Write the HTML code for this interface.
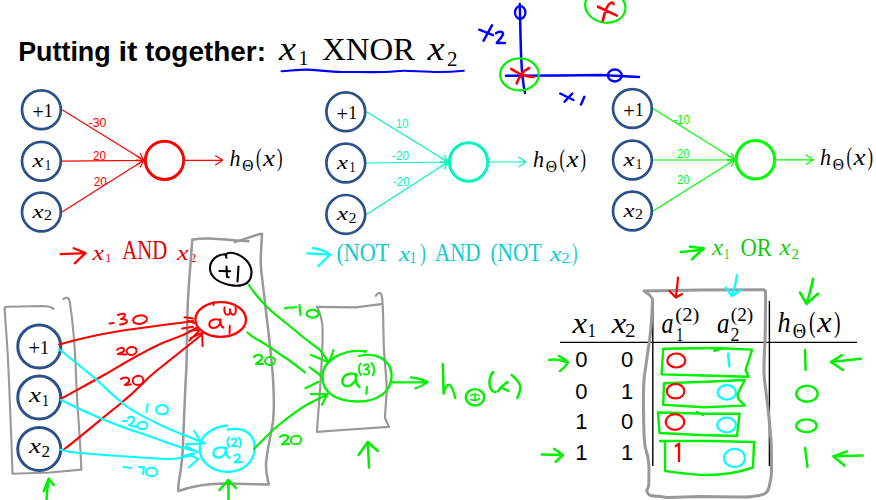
<!DOCTYPE html>
<html><head><meta charset="utf-8"><title>Putting it together</title>
<style>
html,body{margin:0;padding:0;background:#fff}
body{width:876px;height:500px;overflow:hidden;font-family:"Liberation Sans",sans-serif}
svg{display:block}
</style></head><body>
<svg width="876" height="500" viewBox="0 0 876 500">
<rect width="876" height="500" fill="#fff"/>
<text x="18.2" y="60.75" font-family="Liberation Sans" font-size="27" font-style="normal" font-weight="bold" fill="#000" text-anchor="start" textLength="92.5" lengthAdjust="spacingAndGlyphs">Putting</text>
<text x="118.4" y="60.75" font-family="Liberation Sans" font-size="27" font-style="normal" font-weight="bold" fill="#000" text-anchor="start" textLength="19" lengthAdjust="spacingAndGlyphs">it</text>
<text x="145" y="60.75" font-family="Liberation Sans" font-size="27" font-style="normal" font-weight="bold" fill="#000" text-anchor="start" textLength="121" lengthAdjust="spacingAndGlyphs">together:</text>
<text x="279" y="60" font-family="Liberation Serif" font-size="33" font-style="italic" font-weight="normal" fill="#000" text-anchor="start" textLength="17" lengthAdjust="spacingAndGlyphs">x</text>
<text x="298.6" y="65.2" font-family="Liberation Serif" font-size="22" font-style="normal" font-weight="normal" fill="#000" text-anchor="start" textLength="10" lengthAdjust="spacingAndGlyphs">1</text>
<text x="322" y="60" font-family="Liberation Serif" font-size="32.4" font-style="normal" font-weight="normal" fill="#000" text-anchor="start" textLength="93" lengthAdjust="spacingAndGlyphs">XNOR</text>
<text x="427.5" y="60" font-family="Liberation Serif" font-size="33" font-style="italic" font-weight="normal" fill="#000" text-anchor="start" textLength="17" lengthAdjust="spacingAndGlyphs">x</text>
<text x="447" y="65.5" font-family="Liberation Serif" font-size="21" font-style="normal" font-weight="normal" fill="#000" text-anchor="start" textLength="10.5" lengthAdjust="spacingAndGlyphs">2</text>
<path d="M281.5,71.3 C290,70.8 298,69.6 306,69.6 S330,72 342,72 S375,72.3 385,72 S398,70.8 404.3,70.8 S428,72 437.9,72 S455,71.6 463.8,70.8" fill="none" stroke="#0000ff" stroke-width="2.1" stroke-linecap="round" stroke-linejoin="round" />
<path d="M519.8,4 C520.3,25 520.6,45 521.2,58 S523,84 525,93" fill="none" stroke="#0000ff" stroke-width="2.5" stroke-linecap="round" stroke-linejoin="round" />
<path d="M506,75.8 L560,75.6 L600,75 L639,77" fill="none" stroke="#0000ff" stroke-width="2.5" stroke-linecap="round" stroke-linejoin="round" />
<ellipse cx="520.2" cy="12.5" rx="5.2" ry="6.3" fill="none" stroke="#0000ff" stroke-width="2.3"/>
<ellipse cx="614.8" cy="75.5" rx="7" ry="6" fill="none" stroke="#0000ff" stroke-width="2.3"/>
<path d="M479.2,29.7 L493,35.2 M492,25.3 L483.6,40.7" fill="none" stroke="#0000ff" stroke-width="2.5" stroke-linecap="round" stroke-linejoin="round" />
<path d="M496,33.2 C499,31 503.5,31.5 503,34 S499,40 496.8,43 L504.8,43" fill="none" stroke="#0000ff" stroke-width="2.5" stroke-linecap="round" stroke-linejoin="round" />
<path d="M560.2,93.5 L573.4,100 M572.3,93.5 L564.6,101.6" fill="none" stroke="#0000ff" stroke-width="2.5" stroke-linecap="round" stroke-linejoin="round" />
<path d="M584.4,96.8 L581,104.5" fill="none" stroke="#0000ff" stroke-width="2.5" stroke-linecap="round" stroke-linejoin="round" />
<ellipse cx="519.5" cy="74.4" rx="19.3" ry="16" fill="none" stroke="#00f000" stroke-width="2.2"/>
<ellipse cx="605.3" cy="6.4" rx="20.3" ry="16.2" fill="none" stroke="#00f000" stroke-width="2.2" transform="rotate(12 605.3 6.4)"/>
<path d="M511.2,69 C515,71 518,73 521,74.4 S529,76.8 533.7,77 M529.2,68 C526,69.5 523.5,71.5 522,73.5 S518,80 516.6,83.4" fill="none" stroke="#ff0000" stroke-width="2.6" stroke-linecap="round" stroke-linejoin="round" />
<path d="M598,6.7 L616.9,15.6 M613.6,4.1 C613,2.4 611.8,2.2 611,2.8 C609,4.2 608,5.2 607.6,6 C606,9 605.2,11.5 604.7,13.4 S603.3,18.5 602.8,20.8" fill="none" stroke="#ff0000" stroke-width="2.6" stroke-linecap="round" stroke-linejoin="round" />
<path d="M62.0,109.8L143.9,160.3M140.1,153.3L143.9,160.3M135.9,160.1L143.9,160.3" fill="none" stroke="#ff0000" stroke-width="1.2"/>
<path d="M62.0,161.2L143.9,160.3M136.9,156.4L143.9,160.3M137.0,164.4L143.9,160.3" fill="none" stroke="#ff0000" stroke-width="1.2"/>
<path d="M62.0,212.0L143.9,160.3M135.9,160.7L143.9,160.3M140.2,167.4L143.9,160.3" fill="none" stroke="#ff0000" stroke-width="1.2"/>
<path d="M185.1,160.3L222.8,160.3M215.2,155.4L222.8,160.3M215.2,165.3L222.8,160.3" fill="none" stroke="#ff0000" stroke-width="1.2"/>
<circle cx="41.4" cy="109.75" r="19.4" fill="#fff" stroke="#2b5288" stroke-width="2.7"/>
<circle cx="41.4" cy="161.25" r="19.4" fill="#fff" stroke="#2b5288" stroke-width="2.7"/>
<circle cx="41.4" cy="212" r="19.4" fill="#fff" stroke="#2b5288" stroke-width="2.7"/>
<circle cx="164.5" cy="160.35" r="19.2" fill="#fff" stroke="#ff0000" stroke-width="3"/>
<text x="32.2" y="118.75" font-family="Liberation Serif" font-size="20.4" font-style="normal" font-weight="normal" fill="#000" text-anchor="start">+</text>
<text x="43.8" y="116.85" font-family="Liberation Serif" font-size="18" font-style="normal" font-weight="normal" fill="#000" text-anchor="start">1</text>
<text x="32.599999999999994" y="166.75" font-family="Liberation Serif" font-size="19.5" font-style="italic" font-weight="normal" fill="#000" text-anchor="start" textLength="11" lengthAdjust="spacingAndGlyphs">x</text>
<text x="44.8" y="170.05" font-family="Liberation Serif" font-size="14" font-style="normal" font-weight="normal" fill="#000" text-anchor="start" textLength="6.4" lengthAdjust="spacingAndGlyphs">1</text>
<text x="32.599999999999994" y="217.5" font-family="Liberation Serif" font-size="19.5" font-style="italic" font-weight="normal" fill="#000" text-anchor="start" textLength="11" lengthAdjust="spacingAndGlyphs">x</text>
<text x="44.0" y="220.2" font-family="Liberation Serif" font-size="14" font-style="normal" font-weight="normal" fill="#000" text-anchor="start" textLength="8" lengthAdjust="spacingAndGlyphs">2</text>
<text x="88.6" y="127.2" font-family="Liberation Sans" font-size="12" font-style="normal" font-weight="normal" fill="#ff0000" text-anchor="start" textLength="17.8" lengthAdjust="spacingAndGlyphs">-30</text>
<text x="93" y="160" font-family="Liberation Sans" font-size="12" font-style="normal" font-weight="normal" fill="#ff0000" text-anchor="start" textLength="13" lengthAdjust="spacingAndGlyphs">20</text>
<text x="93.75" y="185.5" font-family="Liberation Sans" font-size="12" font-style="normal" font-weight="normal" fill="#ff0000" text-anchor="start" textLength="13.2" lengthAdjust="spacingAndGlyphs">20</text>
<text x="229.5" y="166.25" font-family="Liberation Serif" font-size="24.0" font-style="italic" font-weight="normal" fill="#000" text-anchor="start" textLength="11.0" lengthAdjust="spacingAndGlyphs">h</text>
<text x="242.3" y="171.45" font-family="Liberation Serif" font-size="17.0" font-style="normal" font-weight="normal" fill="#000" text-anchor="start" textLength="11.2" lengthAdjust="spacingAndGlyphs">Θ</text>
<text x="256.0" y="166.25" font-family="Liberation Serif" font-size="25.0" font-style="normal" font-weight="normal" fill="#000" text-anchor="start" textLength="5.5" lengthAdjust="spacingAndGlyphs">(</text>
<text x="263.0" y="166.25" font-family="Liberation Serif" font-size="24.0" font-style="italic" font-weight="normal" fill="#000" text-anchor="start" textLength="12.0" lengthAdjust="spacingAndGlyphs">x</text>
<text x="277.0" y="166.25" font-family="Liberation Serif" font-size="25.0" font-style="normal" font-weight="normal" fill="#000" text-anchor="start" textLength="5.5" lengthAdjust="spacingAndGlyphs">)</text>
<path d="M366.4,111.8L448.0,162.0M444.2,155.0L448.0,162.0M440.0,161.8L448.0,162.0" fill="none" stroke="#00f5c0" stroke-width="1.2"/>
<path d="M366.4,163.0L448.0,162.0M441.0,158.1L448.0,162.0M441.1,166.1L448.0,162.0" fill="none" stroke="#00f5c0" stroke-width="1.2"/>
<path d="M366.4,214.4L448.0,162.0M440.0,162.4L448.0,162.0M444.3,169.1L448.0,162.0" fill="none" stroke="#00f5c0" stroke-width="1.2"/>
<path d="M489.2,162.0L526.0,162.0M518.5,157.1L526.0,162.0M518.5,166.9L526.0,162.0" fill="none" stroke="#00f5c0" stroke-width="1.2"/>
<circle cx="345.8" cy="111.75" r="19.4" fill="#fff" stroke="#2b5288" stroke-width="2.7"/>
<circle cx="345.8" cy="163" r="19.4" fill="#fff" stroke="#2b5288" stroke-width="2.7"/>
<circle cx="345.8" cy="214.4" r="19.4" fill="#fff" stroke="#2b5288" stroke-width="2.7"/>
<circle cx="468.6" cy="162" r="19.2" fill="#fff" stroke="#00f5c0" stroke-width="3"/>
<text x="336.6" y="120.75" font-family="Liberation Serif" font-size="20.4" font-style="normal" font-weight="normal" fill="#000" text-anchor="start">+</text>
<text x="348.2" y="118.85" font-family="Liberation Serif" font-size="18" font-style="normal" font-weight="normal" fill="#000" text-anchor="start">1</text>
<text x="337.0" y="168.5" font-family="Liberation Serif" font-size="19.5" font-style="italic" font-weight="normal" fill="#000" text-anchor="start" textLength="11" lengthAdjust="spacingAndGlyphs">x</text>
<text x="349.2" y="171.8" font-family="Liberation Serif" font-size="14" font-style="normal" font-weight="normal" fill="#000" text-anchor="start" textLength="6.4" lengthAdjust="spacingAndGlyphs">1</text>
<text x="337.0" y="219.9" font-family="Liberation Serif" font-size="19.5" font-style="italic" font-weight="normal" fill="#000" text-anchor="start" textLength="11" lengthAdjust="spacingAndGlyphs">x</text>
<text x="348.40000000000003" y="222.6" font-family="Liberation Serif" font-size="14" font-style="normal" font-weight="normal" fill="#000" text-anchor="start" textLength="8" lengthAdjust="spacingAndGlyphs">2</text>
<text x="396" y="127.6" font-family="Liberation Sans" font-size="12" font-style="normal" font-weight="normal" fill="#00f5c0" text-anchor="start" textLength="12.6" lengthAdjust="spacingAndGlyphs">10</text>
<text x="392" y="160" font-family="Liberation Sans" font-size="12" font-style="normal" font-weight="normal" fill="#00f5c0" text-anchor="start" textLength="17" lengthAdjust="spacingAndGlyphs">-20</text>
<text x="393" y="186" font-family="Liberation Sans" font-size="12" font-style="normal" font-weight="normal" fill="#00f5c0" text-anchor="start" textLength="16.6" lengthAdjust="spacingAndGlyphs">-20</text>
<text x="533" y="167" font-family="Liberation Serif" font-size="24.0" font-style="italic" font-weight="normal" fill="#000" text-anchor="start" textLength="11.0" lengthAdjust="spacingAndGlyphs">h</text>
<text x="545.8" y="172.2" font-family="Liberation Serif" font-size="17.0" font-style="normal" font-weight="normal" fill="#000" text-anchor="start" textLength="11.2" lengthAdjust="spacingAndGlyphs">Θ</text>
<text x="559.5" y="167" font-family="Liberation Serif" font-size="25.0" font-style="normal" font-weight="normal" fill="#000" text-anchor="start" textLength="5.5" lengthAdjust="spacingAndGlyphs">(</text>
<text x="566.5" y="167" font-family="Liberation Serif" font-size="24.0" font-style="italic" font-weight="normal" fill="#000" text-anchor="start" textLength="12.0" lengthAdjust="spacingAndGlyphs">x</text>
<text x="580.5" y="167" font-family="Liberation Serif" font-size="25.0" font-style="normal" font-weight="normal" fill="#000" text-anchor="start" textLength="5.5" lengthAdjust="spacingAndGlyphs">)</text>
<path d="M653.0,108.5L734.8,159.8M731.1,152.7L734.8,159.8M726.8,159.5L734.8,159.8" fill="none" stroke="#00ff00" stroke-width="1.2"/>
<path d="M653.0,160.0L734.8,159.8M727.9,155.8L734.8,159.8M727.9,163.8L734.8,159.8" fill="none" stroke="#00ff00" stroke-width="1.2"/>
<path d="M653.0,211.0L734.8,159.8M726.8,160.0L734.8,159.8M731.1,166.8L734.8,159.8" fill="none" stroke="#00ff00" stroke-width="1.2"/>
<path d="M776.0,159.8L813.2,159.8M805.7,154.8L813.2,159.8M805.7,164.7L813.2,159.8" fill="none" stroke="#00ff00" stroke-width="1.2"/>
<circle cx="632.4" cy="108.5" r="19.4" fill="#fff" stroke="#2b5288" stroke-width="2.7"/>
<circle cx="632.4" cy="160" r="19.4" fill="#fff" stroke="#2b5288" stroke-width="2.7"/>
<circle cx="632.4" cy="211" r="19.4" fill="#fff" stroke="#2b5288" stroke-width="2.7"/>
<circle cx="755.4" cy="159.75" r="19.2" fill="#fff" stroke="#00ff00" stroke-width="3"/>
<text x="623.1999999999999" y="117.5" font-family="Liberation Serif" font-size="20.4" font-style="normal" font-weight="normal" fill="#000" text-anchor="start">+</text>
<text x="634.8" y="115.6" font-family="Liberation Serif" font-size="18" font-style="normal" font-weight="normal" fill="#000" text-anchor="start">1</text>
<text x="623.6" y="165.5" font-family="Liberation Serif" font-size="19.5" font-style="italic" font-weight="normal" fill="#000" text-anchor="start" textLength="11" lengthAdjust="spacingAndGlyphs">x</text>
<text x="635.8" y="168.8" font-family="Liberation Serif" font-size="14" font-style="normal" font-weight="normal" fill="#000" text-anchor="start" textLength="6.4" lengthAdjust="spacingAndGlyphs">1</text>
<text x="623.6" y="216.5" font-family="Liberation Serif" font-size="19.5" font-style="italic" font-weight="normal" fill="#000" text-anchor="start" textLength="11" lengthAdjust="spacingAndGlyphs">x</text>
<text x="635.0" y="219.2" font-family="Liberation Serif" font-size="14" font-style="normal" font-weight="normal" fill="#000" text-anchor="start" textLength="8" lengthAdjust="spacingAndGlyphs">2</text>
<text x="673" y="124" font-family="Liberation Sans" font-size="12" font-style="normal" font-weight="normal" fill="#00ff00" text-anchor="start" textLength="17" lengthAdjust="spacingAndGlyphs">-10</text>
<text x="677" y="158" font-family="Liberation Sans" font-size="12" font-style="normal" font-weight="normal" fill="#00ff00" text-anchor="start" textLength="12.5" lengthAdjust="spacingAndGlyphs">20</text>
<text x="677" y="183.75" font-family="Liberation Sans" font-size="12" font-style="normal" font-weight="normal" fill="#00ff00" text-anchor="start" textLength="12.5" lengthAdjust="spacingAndGlyphs">20</text>
<text x="820" y="164.5" font-family="Liberation Serif" font-size="24.0" font-style="italic" font-weight="normal" fill="#000" text-anchor="start" textLength="11.0" lengthAdjust="spacingAndGlyphs">h</text>
<text x="832.8" y="169.7" font-family="Liberation Serif" font-size="17.0" font-style="normal" font-weight="normal" fill="#000" text-anchor="start" textLength="11.2" lengthAdjust="spacingAndGlyphs">Θ</text>
<text x="846.5" y="164.5" font-family="Liberation Serif" font-size="25.0" font-style="normal" font-weight="normal" fill="#000" text-anchor="start" textLength="5.5" lengthAdjust="spacingAndGlyphs">(</text>
<text x="853.5" y="164.5" font-family="Liberation Serif" font-size="24.0" font-style="italic" font-weight="normal" fill="#000" text-anchor="start" textLength="12.0" lengthAdjust="spacingAndGlyphs">x</text>
<text x="867.5" y="164.5" font-family="Liberation Serif" font-size="25.0" font-style="normal" font-weight="normal" fill="#000" text-anchor="start" textLength="5.5" lengthAdjust="spacingAndGlyphs">)</text>
<path d="M60.6,254.2 L85.4,253.2 M73.7,248.2 L85.6,253 L74.7,263.3" fill="none" stroke="#ff0000" stroke-width="2.3" stroke-linecap="round" stroke-linejoin="round" />
<text x="92.5" y="259.5" font-family="Liberation Serif" font-size="22" font-style="italic" font-weight="normal" fill="#dd0000" text-anchor="start" textLength="11.5" lengthAdjust="spacingAndGlyphs">x</text>
<text x="105.3" y="261.6" font-family="Liberation Serif" font-size="13" font-style="normal" font-weight="normal" fill="#dd0000" text-anchor="start" textLength="6" lengthAdjust="spacingAndGlyphs">1</text>
<text x="122.2" y="259.4" font-family="Liberation Serif" font-size="26.5" font-style="normal" font-weight="normal" fill="#dd0000" text-anchor="start" textLength="45" lengthAdjust="spacingAndGlyphs">AND</text>
<text x="177" y="259.5" font-family="Liberation Serif" font-size="22" font-style="italic" font-weight="normal" fill="#dd0000" text-anchor="start" textLength="11.5" lengthAdjust="spacingAndGlyphs">x</text>
<text x="189.6" y="261.6" font-family="Liberation Serif" font-size="13" font-style="normal" font-weight="normal" fill="#dd0000" text-anchor="start" textLength="7" lengthAdjust="spacingAndGlyphs">2</text>
<path d="M307.3,253.3 L330,254.7 M312.8,248.2 C320,249 326,251.5 330.1,254.7 C326,258.5 322,262.5 318.3,266" fill="none" stroke="#00ffff" stroke-width="2.3" stroke-linecap="round" stroke-linejoin="round" />
<text x="336.4" y="260.8" font-family="Liberation Serif" font-size="26" font-style="normal" font-weight="normal" fill="#10cccc" text-anchor="start" textLength="53" lengthAdjust="spacingAndGlyphs">(NOT</text>
<text x="398.7" y="260.8" font-family="Liberation Serif" font-size="22" font-style="italic" font-weight="normal" fill="#10cccc" text-anchor="start" textLength="11.5" lengthAdjust="spacingAndGlyphs">x</text>
<text x="409.4" y="263.3" font-family="Liberation Serif" font-size="17" font-style="normal" font-weight="normal" fill="#10cccc" text-anchor="start" textLength="7" lengthAdjust="spacingAndGlyphs">1</text>
<text x="420" y="260.8" font-family="Liberation Serif" font-size="26" font-style="normal" font-weight="normal" fill="#10cccc" text-anchor="start" textLength="5.8" lengthAdjust="spacingAndGlyphs">)</text>
<text x="435" y="260.8" font-family="Liberation Serif" font-size="26" font-style="normal" font-weight="normal" fill="#10cccc" text-anchor="start" textLength="45.5" lengthAdjust="spacingAndGlyphs">AND</text>
<text x="490.4" y="260.8" font-family="Liberation Serif" font-size="26" font-style="normal" font-weight="normal" fill="#10cccc" text-anchor="start" textLength="51.3" lengthAdjust="spacingAndGlyphs">(NOT</text>
<text x="550" y="260.8" font-family="Liberation Serif" font-size="22" font-style="italic" font-weight="normal" fill="#10cccc" text-anchor="start" textLength="11.5" lengthAdjust="spacingAndGlyphs">x</text>
<text x="561.3" y="263.3" font-family="Liberation Serif" font-size="14.5" font-style="normal" font-weight="normal" fill="#10cccc" text-anchor="start" textLength="8.4" lengthAdjust="spacingAndGlyphs">2</text>
<text x="572" y="260.8" font-family="Liberation Serif" font-size="26" font-style="normal" font-weight="normal" fill="#10cccc" text-anchor="start" textLength="5.5" lengthAdjust="spacingAndGlyphs">)</text>
<path d="M681,252 L703,249.7 M690,246.8 L703.8,248.3 L692,259.2" fill="none" stroke="#00f000" stroke-width="2.6" stroke-linecap="round" stroke-linejoin="round" />
<text x="712" y="255.2" font-family="Liberation Serif" font-size="23" font-style="italic" font-weight="normal" fill="#10cc10" text-anchor="start" textLength="11" lengthAdjust="spacingAndGlyphs">x</text>
<text x="724" y="259" font-family="Liberation Serif" font-size="15" font-style="normal" font-weight="normal" fill="#10cc10" text-anchor="start" textLength="5.5" lengthAdjust="spacingAndGlyphs">1</text>
<text x="740.4" y="255.6" font-family="Liberation Serif" font-size="25" font-style="normal" font-weight="normal" fill="#10cc10" text-anchor="start" textLength="31.4" lengthAdjust="spacingAndGlyphs">OR</text>
<text x="779.6" y="255.2" font-family="Liberation Serif" font-size="23" font-style="italic" font-weight="normal" fill="#10cc10" text-anchor="start" textLength="11" lengthAdjust="spacingAndGlyphs">x</text>
<text x="791.5" y="259" font-family="Liberation Serif" font-size="15" font-style="normal" font-weight="normal" fill="#10cc10" text-anchor="start" textLength="7.5" lengthAdjust="spacingAndGlyphs">2</text>
<path d="M560,342.4H857" stroke="#000" stroke-width="1.4"/>
<path d="M652.8,301V466M769.4,301V466" stroke="#000" stroke-width="1.4"/>
<text x="572.5" y="332.5" font-family="Liberation Serif" font-size="29" font-style="italic" font-weight="normal" fill="#000" text-anchor="start" textLength="14.5" lengthAdjust="spacingAndGlyphs">x</text>
<text x="587.6" y="337" font-family="Liberation Serif" font-size="19" font-style="normal" font-weight="normal" fill="#000" text-anchor="start" textLength="8.5" lengthAdjust="spacingAndGlyphs">1</text>
<text x="611.75" y="332.5" font-family="Liberation Serif" font-size="29" font-style="italic" font-weight="normal" fill="#000" text-anchor="start" textLength="14.5" lengthAdjust="spacingAndGlyphs">x</text>
<text x="625" y="337" font-family="Liberation Serif" font-size="19" font-style="normal" font-weight="normal" fill="#000" text-anchor="start" textLength="10.5" lengthAdjust="spacingAndGlyphs">2</text>
<text x="661.5" y="333" font-family="Liberation Serif" font-size="29" font-style="italic" font-weight="normal" fill="#000" text-anchor="start" textLength="12" lengthAdjust="spacingAndGlyphs">a</text>
<text x="676" y="340.5" font-family="Liberation Serif" font-size="19" font-style="normal" font-weight="normal" fill="#000" text-anchor="start" textLength="7.5" lengthAdjust="spacingAndGlyphs">1</text>
<text x="675.3" y="320.8" font-family="Liberation Serif" font-size="19.5" font-style="normal" font-weight="normal" fill="#000" text-anchor="start" textLength="24" lengthAdjust="spacingAndGlyphs">(2)</text>
<text x="717" y="333" font-family="Liberation Serif" font-size="29" font-style="italic" font-weight="normal" fill="#000" text-anchor="start" textLength="12.5" lengthAdjust="spacingAndGlyphs">a</text>
<text x="730.5" y="340.5" font-family="Liberation Serif" font-size="19" font-style="normal" font-weight="normal" fill="#000" text-anchor="start" textLength="9" lengthAdjust="spacingAndGlyphs">2</text>
<text x="730.75" y="320.8" font-family="Liberation Serif" font-size="19.5" font-style="normal" font-weight="normal" fill="#000" text-anchor="start" textLength="22.5" lengthAdjust="spacingAndGlyphs">(2)</text>
<text x="777.5" y="332" font-family="Liberation Serif" font-size="28.56" font-style="italic" font-weight="normal" fill="#000" text-anchor="start" textLength="13.09" lengthAdjust="spacingAndGlyphs">h</text>
<text x="792.732" y="338.188" font-family="Liberation Serif" font-size="20.23" font-style="normal" font-weight="normal" fill="#000" text-anchor="start" textLength="13.328" lengthAdjust="spacingAndGlyphs">Θ</text>
<text x="809.035" y="332" font-family="Liberation Serif" font-size="29.75" font-style="normal" font-weight="normal" fill="#000" text-anchor="start" textLength="6.545" lengthAdjust="spacingAndGlyphs">(</text>
<text x="817.365" y="332" font-family="Liberation Serif" font-size="28.56" font-style="italic" font-weight="normal" fill="#000" text-anchor="start" textLength="14.28" lengthAdjust="spacingAndGlyphs">x</text>
<text x="834.025" y="332" font-family="Liberation Serif" font-size="29.75" font-style="normal" font-weight="normal" fill="#000" text-anchor="start" textLength="6.545" lengthAdjust="spacingAndGlyphs">)</text>
<text x="581.4" y="367" font-family="Liberation Sans" font-size="22" font-style="normal" font-weight="normal" fill="#000" text-anchor="middle">0</text>
<text x="627.2" y="367" font-family="Liberation Sans" font-size="22" font-style="normal" font-weight="normal" fill="#000" text-anchor="middle">0</text>
<text x="581.4" y="398.75" font-family="Liberation Sans" font-size="22" font-style="normal" font-weight="normal" fill="#000" text-anchor="middle">0</text>
<text x="627.2" y="398.75" font-family="Liberation Sans" font-size="22" font-style="normal" font-weight="normal" fill="#000" text-anchor="middle">1</text>
<text x="581.4" y="428.75" font-family="Liberation Sans" font-size="22" font-style="normal" font-weight="normal" fill="#000" text-anchor="middle">1</text>
<text x="627.2" y="428.75" font-family="Liberation Sans" font-size="22" font-style="normal" font-weight="normal" fill="#000" text-anchor="middle">0</text>
<text x="581.4" y="460" font-family="Liberation Sans" font-size="22" font-style="normal" font-weight="normal" fill="#000" text-anchor="middle">1</text>
<text x="627.2" y="460" font-family="Liberation Sans" font-size="22" font-style="normal" font-weight="normal" fill="#000" text-anchor="middle">1</text>
<path d="M4.6,309 C4.4,307.5 5.2,306.9 7,306.8 L30,306.3 L43.4,306 C48,306.3 51.5,307.3 53.6,308.8" fill="none" stroke="#999999" stroke-width="2.1" stroke-linecap="round" stroke-linejoin="round" />
<path d="M4.6,309 C5.3,320 6,330 6.8,340 S8.2,365 8.75,375 S11.5,440 12.5,473.8 L50,472.5 L81.3,469.6" fill="none" stroke="#999999" stroke-width="2.1" stroke-linecap="round" stroke-linejoin="round" />
<path d="M63.4,299 C65,298 66.5,297.6 67.4,297.8 S69.3,299 69.6,301.4 C70.5,307 71.3,312 72,318.5 S75.3,348 76,375 S80.5,440 81.3,469.6" fill="none" stroke="#999999" stroke-width="2.1" stroke-linecap="round" stroke-linejoin="round" />
<path d="M192.3,239.8 C198,238.6 204,238.4 208.5,238.5 S220,239.2 225.7,239.6 S240,240.8 248.5,241.2" fill="none" stroke="#999999" stroke-width="2.5" stroke-linecap="round" stroke-linejoin="round" />
<path d="M234.8,242.1 L260,234 L262,234" fill="none" stroke="#999999" stroke-width="2.5" stroke-linecap="round" stroke-linejoin="round" />
<path d="M192.3,239.8 C190.5,265 188,290 187.5,312 S187,360 186,375 S183.3,440 182.6,452 S180.2,474 179,481 S178.2,487 178.5,491" fill="none" stroke="#999999" stroke-width="2.5" stroke-linecap="round" stroke-linejoin="round" />
<path d="M178.5,491 C185,488.5 192,486.8 197.4,485.9 S215,483.8 224.8,483.6 L268.6,484.5" fill="none" stroke="#999999" stroke-width="2.5" stroke-linecap="round" stroke-linejoin="round" />
<path d="M262,234 C261.5,245 260.5,255 260.8,264 S263.5,288 264.7,300 S271,350 272.75,375 S274,415 272.5,425 S266,455 266,465 S267.8,478 268.6,484.5" fill="none" stroke="#999999" stroke-width="2.5" stroke-linecap="round" stroke-linejoin="round" />
<path d="M317,306.8 L355.7,307.3 L381,304.2" fill="none" stroke="#999999" stroke-width="2.2" stroke-linecap="round" stroke-linejoin="round" />
<path d="M317,306.8 C319.5,312 321.8,319 322.3,325 S322.3,350 321.7,362 S319.5,398 318.6,409 S317.3,425 317,431.8 L350,429.5 L389,426.8" fill="none" stroke="#999999" stroke-width="2.2" stroke-linecap="round" stroke-linejoin="round" />
<path d="M375.8,295.8 C377.5,292.5 380.5,291.8 381.5,295 S383,310 383.2,320 S383.5,340 384,350 S386.5,378 386.7,387 S385,410 385,418 L389,426.8" fill="none" stroke="#999999" stroke-width="2.2" stroke-linecap="round" stroke-linejoin="round" />
<path d="M644,291 C648,293.5 652.3,296.5 652.5,300 C652,315 651,330 649.6,340 S645,370 644,380 S643.6,425 644.2,438 S647.4,453 648,458 S649.2,466 649,470 S649,482 648.6,485.6 S646.6,489 646.8,490.4 S647.5,494 649.8,495.2 S656,496.2 660,496.5 S666,497.5 668.4,497.6 L700,496.4 L740,497 C746,496.9 750,496.7 752,496.4 S761,495.5 764,494 S768,491 768.8,488 S771.5,475 771.5,470 S771.4,445 771,440 S768,408 767,400 S764.2,380 764,372 S764.8,345 765,340 S765.8,296 765.5,292 C765.4,290.2 764.5,289.7 763,289.7 L700,289.9 L644,291" fill="none" stroke="#999999" stroke-width="3" stroke-linecap="round" stroke-linejoin="round" />
<circle cx="39.25" cy="346.6" r="21.5" fill="#fff" stroke="#2b5288" stroke-width="3"/>
<circle cx="39.25" cy="397.6" r="21.5" fill="#fff" stroke="#2b5288" stroke-width="3"/>
<circle cx="39.25" cy="449" r="21.5" fill="#fff" stroke="#2b5288" stroke-width="3"/>
<text x="28.400000000000002" y="355.4" font-family="Liberation Serif" font-size="20.4" font-style="normal" font-weight="normal" fill="#000" text-anchor="start">+</text>
<text x="40.0" y="353.5" font-family="Liberation Serif" font-size="18" font-style="normal" font-weight="normal" fill="#000" text-anchor="start">1</text>
<text x="29" y="401.8" font-family="Liberation Serif" font-size="22" font-style="italic" font-weight="normal" fill="#000" text-anchor="start" textLength="12" lengthAdjust="spacingAndGlyphs">x</text>
<text x="42" y="406.0" font-family="Liberation Serif" font-size="16" font-style="normal" font-weight="normal" fill="#000" text-anchor="start" textLength="7" lengthAdjust="spacingAndGlyphs">1</text>
<text x="29" y="453" font-family="Liberation Serif" font-size="22" font-style="italic" font-weight="normal" fill="#000" text-anchor="start" textLength="12" lengthAdjust="spacingAndGlyphs">x</text>
<text x="41.6" y="457" font-family="Liberation Serif" font-size="16" font-style="normal" font-weight="normal" fill="#000" text-anchor="start" textLength="8.6" lengthAdjust="spacingAndGlyphs">2</text>
<path d="M59,344.5 C75,340 95,335 120,331 S165,325 193,321" fill="none" stroke="#ff0000" stroke-width="2.2" stroke-linecap="round" stroke-linejoin="round" />
<path d="M61,398.8 C75,391 90,383 104,375 S150,347 170,340 S190,331 196,328" fill="none" stroke="#ff0000" stroke-width="2.2" stroke-linecap="round" stroke-linejoin="round" />
<path d="M63.8,449.5 C80,437 100,420 120,404 S145,380 155,372 S185,348 202,334.5" fill="none" stroke="#ff0000" stroke-width="2.2" stroke-linecap="round" stroke-linejoin="round" />
<path d="M184.6,317.2 L193,318.4 M188.2,320.8 L194.8,323.2 M182.2,328.6 L193,326.8 M189.4,331 L197.8,329.8 M190.6,338.2 L202,332.8 L202.6,346 M189.4,340.6 L199,331 M213.4,302.2 L213.6,305" fill="none" stroke="#ff0000" stroke-width="2" stroke-linecap="round" stroke-linejoin="round" />
<path d="M109.6,323.6 L113.6,323" fill="none" stroke="#ff0000" stroke-width="2" stroke-linecap="round" stroke-linejoin="round" />
<path d="M118,315 C121,313.5 125,313 125,315 S122,319 121,319 C124,319 127,320 127,321.5 S123,324.5 120,324.4" fill="none" stroke="#ff0000" stroke-width="2" stroke-linecap="round" stroke-linejoin="round" />
<ellipse cx="140" cy="319.6" rx="7" ry="4.2" fill="none" stroke="#ff0000" stroke-width="2" transform="rotate(-8 140 319.6)"/>
<path d="M117,350 C119,347.5 123,347 124,349.5 S120,353 118,354 L126,354.4" fill="none" stroke="#ff0000" stroke-width="2" stroke-linecap="round" stroke-linejoin="round" />
<ellipse cx="131.6" cy="351" rx="5" ry="4" fill="none" stroke="#ff0000" stroke-width="2" transform="rotate(-10 131.6 351)"/>
<path d="M121,379 C123,377 128,376.5 129,379.5 S126,384 125,385 L131,384.4" fill="none" stroke="#ff0000" stroke-width="2" stroke-linecap="round" stroke-linejoin="round" />
<ellipse cx="138" cy="380.4" rx="5.3" ry="4.5" fill="none" stroke="#ff0000" stroke-width="2" transform="rotate(-10 138 380.4)"/>
<path d="M59,349 C70,358 80,366 91,375 S115,398 126,406 S165,428 184,435 L204,443" fill="none" stroke="#00ffff" stroke-width="2.05" stroke-linecap="round" stroke-linejoin="round" />
<path d="M61,400 C75,407 88,413 100,418 S130,430 140,433 S170,444 180,447 L198,452" fill="none" stroke="#00ffff" stroke-width="2.05" stroke-linecap="round" stroke-linejoin="round" />
<path d="M60,449.5 C68,452 75,452.8 80,453 S110,455.5 120,456 S160,459.5 170,459 S188,456.5 194,453.6" fill="none" stroke="#00ffff" stroke-width="2.05" stroke-linecap="round" stroke-linejoin="round" />
<path d="M194,430.8 L201.2,442.2 M186.2,444 L205.4,443.4 M185.6,446 L194,450.5 M184.4,455.4 L194,453.6 L190.4,456 M188.6,467.4 L198.2,459 L192.2,456" fill="none" stroke="#00ffff" stroke-width="2" stroke-linecap="round" stroke-linejoin="round" />
<path d="M147.6,404 L146.4,412" fill="none" stroke="#00ffff" stroke-width="2" stroke-linecap="round" stroke-linejoin="round" />
<ellipse cx="162" cy="409.6" rx="6" ry="4.7" fill="none" stroke="#00ffff" stroke-width="2"/>
<path d="M123,421 L127,421 M128,418 C130,416 134,416 134,419 S131,424 129,425 L137,427" fill="none" stroke="#00ffff" stroke-width="2" stroke-linecap="round" stroke-linejoin="round" />
<ellipse cx="142.4" cy="425.6" rx="5" ry="3.5" fill="none" stroke="#00ffff" stroke-width="2"/>
<path d="M123.6,467 L130.4,468 M139,467 L144,467.6 L143,474" fill="none" stroke="#00ffff" stroke-width="2" stroke-linecap="round" stroke-linejoin="round" />
<ellipse cx="151.6" cy="472" rx="5.8" ry="4.2" fill="none" stroke="#00ffff" stroke-width="2"/>
<path d="M226.4,257.6 C226.2,255.6 226,254.6 225,254.3 C216,254.6 209.6,261 210,269 S219,283.6 232,285.4 S251.6,282 251.5,272 C251.4,263 243,255.2 233,253 C230,252.5 227,253.2 226.2,254.4" fill="none" stroke="#000" stroke-width="2.1" stroke-linecap="round" stroke-linejoin="round" />
<path d="M219.5,271 L230.2,271.3 M226.5,266.5 L227,277 L228.8,277.2 M238.5,266.5 L237.5,281.5" fill="none" stroke="#000" stroke-width="2.1" stroke-linecap="round" stroke-linejoin="round" />
<ellipse cx="220.7" cy="319.5" rx="25.3" ry="17.4" fill="none" stroke="#ff0000" stroke-width="2.3"/>
<path d="M220.3,320.6 C217.5,318.2 210,319 209.4,323.6 S213.5,328.8 217,327 S220.5,322.5 220.4,319.4 C220.2,323.5 220.5,326.6 223.4,327.6" fill="none" stroke="#ff0000" stroke-width="2.1" stroke-linecap="round" stroke-linejoin="round" />
<path d="M224.6,307.4 C223.6,311 225,315.3 228,314.8 S230,311 230,309.2 C230,313 232,315.4 234,314.5 S236,309.5 235.5,307" fill="none" stroke="#ff0000" stroke-width="2" stroke-linecap="round" stroke-linejoin="round" />
<path d="M229.8,325.8 L229.5,333.8" fill="none" stroke="#ff0000" stroke-width="2" stroke-linecap="round" stroke-linejoin="round" />
<path d="M227,425.5 C212,427 199.5,436 199.7,449 S212,471.5 227,471.8 S254.5,463 254.7,448 S243,427 228,429.5" fill="none" stroke="#00ffff" stroke-width="2.3" stroke-linecap="round" stroke-linejoin="round" />
<path d="M226,449 C222,446 214,447.5 213.5,452.5 S218,459 222,456.5 S226.5,450 226,447.5 C225.5,452 226.5,456.5 229.5,458" fill="none" stroke="#00ffff" stroke-width="2.2" stroke-linecap="round" stroke-linejoin="round" />
<path d="M229,437.5 C226.5,440 227,445 229.5,447 M232,439.5 C234,437.5 237,438.5 236,441 S233,445 232,446 L237,446 M238.5,437.5 C241.5,440 242,444.5 239.5,447.5" fill="none" stroke="#00ffff" stroke-width="1.9" stroke-linecap="round" stroke-linejoin="round" />
<path d="M234.5,455.5 C236.5,453.5 240.5,454 239.5,457 S235.5,461.5 234.5,462.5 L241.5,462" fill="none" stroke="#00ffff" stroke-width="2" stroke-linecap="round" stroke-linejoin="round" />
<path d="M366,351.5 C345,348.5 322.5,359 322.5,377 S340,401.5 358,401.5 S391.5,393 391.6,376 S375,352 359,356" fill="none" stroke="#00f000" stroke-width="2.3" stroke-linecap="round" stroke-linejoin="round" />
<path d="M356,375 C352,372 343.5,374 342.5,380 S347,387.5 351,385 S356.5,378 356,374.5 C355.5,380 356.5,385 359.5,387" fill="none" stroke="#00f000" stroke-width="2.4" stroke-linecap="round" stroke-linejoin="round" />
<path d="M360.5,363.5 C358,367 358.5,372.5 361,375 M364,365.5 C366,363.5 369.5,364 368.5,366.5 S366,369 365.5,369.3 C368,369.3 370,371 369,373 S365.5,375 363.5,374 M371.5,363 C374.5,366 375.5,371.5 372.5,375.5" fill="none" stroke="#00f000" stroke-width="1.9" stroke-linecap="round" stroke-linejoin="round" />
<path d="M367,387 L366.3,393.8" fill="none" stroke="#00f000" stroke-width="2.2" stroke-linecap="round" stroke-linejoin="round" />
<path d="M248.8,285 C255,294 261,301 267.5,307.5 S290,326 297.5,332.5 S315,346 320,350 L329,362.5" fill="none" stroke="#00f000" stroke-width="2.2" stroke-linecap="round" stroke-linejoin="round" />
<path d="M311,355 L329,362.5 L333.5,350" fill="none" stroke="#00f000" stroke-width="2.2" stroke-linecap="round" stroke-linejoin="round" />
<path d="M247.5,332.5 C251,336 255,338.5 260,341 S278,353 285,357.5 S300,368.5 305,372.5" fill="none" stroke="#00f000" stroke-width="2.2" stroke-linecap="round" stroke-linejoin="round" />
<path d="M309.8,367.4 L318.6,374 M305.4,388.3 L318.6,381.7 M318.6,374 L322.5,378" fill="none" stroke="#00f000" stroke-width="2.2" stroke-linecap="round" stroke-linejoin="round" />
<path d="M254,448.8 C262,441 270,432 280,424 S300,408 310,403 L327,394.5" fill="none" stroke="#00f000" stroke-width="2.2" stroke-linecap="round" stroke-linejoin="round" />
<path d="M311,394.2 L327.4,394.2 L321.9,404.8" fill="none" stroke="#00f000" stroke-width="2.2" stroke-linecap="round" stroke-linejoin="round" />
<path d="M392.3,382.3 L427.5,382.3 M411,377.3 C418,378 424,380 427.5,382 C424,385 419,387 415.4,388.3" fill="none" stroke="#00f000" stroke-width="2.2" stroke-linecap="round" stroke-linejoin="round" />
<path d="M285,308.5 C288,306 292,309 296,307 M299.5,305 L300.5,315" fill="none" stroke="#00f000" stroke-width="2.2" stroke-linecap="round" stroke-linejoin="round" />
<ellipse cx="312.5" cy="313.75" rx="6" ry="3.8" fill="none" stroke="#00f000" stroke-width="2.2"/>
<path d="M254,357 C256,354.5 261,354 262,357 S258,362 256,364 L263,364" fill="none" stroke="#00f000" stroke-width="2.2" stroke-linecap="round" stroke-linejoin="round" />
<ellipse cx="270" cy="361" rx="5" ry="4" fill="none" stroke="#00f000" stroke-width="2" transform="rotate(-10 270 361)"/>
<path d="M280,437 C282,434.5 287,434.5 288,437 S284,442 282,444.5 L289,444" fill="none" stroke="#00f000" stroke-width="2.2" stroke-linecap="round" stroke-linejoin="round" />
<ellipse cx="296" cy="440" rx="5.3" ry="4.2" fill="none" stroke="#00f000" stroke-width="2" transform="rotate(-10 296 440)"/>
<path d="M46.5,500 C47,492 47.8,485 48.7,478.8 M43.8,491 L48.7,478.8 L53.8,485" fill="none" stroke="#00f000" stroke-width="2.5" stroke-linecap="round" stroke-linejoin="round" />
<path d="M228.5,500 L228.3,480 M219.5,490 L228.3,480 L236,488" fill="none" stroke="#00f000" stroke-width="2.5" stroke-linecap="round" stroke-linejoin="round" />
<path d="M369,467.5 L367.8,442 M358.5,455 L367.8,442 L377.8,451" fill="none" stroke="#00f000" stroke-width="2.5" stroke-linecap="round" stroke-linejoin="round" />
<path d="M442.8,364 L443.6,393.6 C445,388 447,384.8 449,384.8 S453.5,391 455.3,398" fill="none" stroke="#00f000" stroke-width="2.5" stroke-linecap="round" stroke-linejoin="round" />
<ellipse cx="475" cy="397.3" rx="9.2" ry="8.2" fill="none" stroke="#00f000" stroke-width="2.4"/>
<path d="M470.8,395.5 C473,393.5 478,394 479,396 M471,399.5 C474,401 477,400.5 479.6,398.4 M475,394 L475,400" fill="none" stroke="#00f000" stroke-width="1.6" stroke-linecap="round" stroke-linejoin="round" />
<path d="M493.2,372 C489,376 488.5,385 491,389 S494,391.5 495.6,392" fill="none" stroke="#00f000" stroke-width="2.5" stroke-linecap="round" stroke-linejoin="round" />
<path d="M507.6,382 L500.8,387.2 L508.3,391 M498,391.2 L500.8,387.2" fill="none" stroke="#00f000" stroke-width="2.5" stroke-linecap="round" stroke-linejoin="round" />
<path d="M511.6,374.9 C517,379 521,385 520.4,388 S519,395 517.2,397.9" fill="none" stroke="#00f000" stroke-width="2.5" stroke-linecap="round" stroke-linejoin="round" />
<path d="M549,360 C555,358.5 561,360 568,362.5 M559,356 C563,358 566,360 568,362.5 C566,366 563,369 560,371" fill="none" stroke="#00f000" stroke-width="2.4" stroke-linecap="round" stroke-linejoin="round" />
<path d="M541.8,454.5 L563,455 M554,448.8 L563,455 L555.5,462" fill="none" stroke="#00f000" stroke-width="2.4" stroke-linecap="round" stroke-linejoin="round" />
<path d="M678,277.5 C677.5,285 676.5,291 675.8,297.5 M669.5,291 L675.8,297.5 L682,294" fill="none" stroke="#ff0000" stroke-width="2.2" stroke-linecap="round" stroke-linejoin="round" />
<path d="M737,275 C736,283 734,290 732,296 M725.8,287.5 L732,296 L740.8,290" fill="none" stroke="#00ffff" stroke-width="2.2" stroke-linecap="round" stroke-linejoin="round" />
<path d="M813,278.8 C811.5,288 809,296 806.5,303.8 M800,292.5 L806.5,303.8 L818,293.8" fill="none" stroke="#00f000" stroke-width="2.6" stroke-linecap="round" stroke-linejoin="round" />
<path d="M663.2,348.8 L715.2,348 L752,349.6 C750,357 747,365 745.6,370.4 L748.8,376.8 L704,375.5 L661.6,374.4 Z M714.4,350.9 L723.2,348" fill="none" stroke="#00f000" stroke-width="2.4" stroke-linecap="round" stroke-linejoin="round" />
<path d="M664,383.2 L700,382 L744.8,380 C742,386 738.5,391 737.6,395.2 S741,401 744.8,405.6 L704,407.2 L663.2,404.8 Z" fill="none" stroke="#00f000" stroke-width="2.4" stroke-linecap="round" stroke-linejoin="round" />
<path d="M658,412.5 L700,413.5 L739.5,413.8 L737,436 L700,435 L659.5,433 Z M697,412 L703,415" fill="none" stroke="#00f000" stroke-width="2.4" stroke-linecap="round" stroke-linejoin="round" />
<path d="M660,441 L710,441 L754,442 L753,467.5 C740,472 722,475 707,475 S680,473 665,471 L665,441.5" fill="none" stroke="#00f000" stroke-width="2.4" stroke-linecap="round" stroke-linejoin="round" />
<ellipse cx="676.3" cy="360.5" rx="9" ry="7" fill="none" stroke="#ff0000" stroke-width="2.2"/>
<ellipse cx="675.6" cy="391.2" rx="8.8" ry="7.2" fill="none" stroke="#ff0000" stroke-width="2.2"/>
<ellipse cx="675" cy="422" rx="9.3" ry="7.8" fill="none" stroke="#ff0000" stroke-width="2.2"/>
<path d="M675.8,446 L679,443.8 L679,461" fill="none" stroke="#ff0000" stroke-width="2.4" stroke-linecap="round" stroke-linejoin="round" />
<path d="M728,353.6 L729.4,366.4" fill="none" stroke="#00ffff" stroke-width="2.4" stroke-linecap="round" stroke-linejoin="round" />
<ellipse cx="726.8" cy="392.4" rx="9.2" ry="7.2" fill="none" stroke="#00ffff" stroke-width="2.2"/>
<ellipse cx="726.5" cy="425" rx="9.4" ry="7.4" fill="none" stroke="#00ffff" stroke-width="2.2"/>
<ellipse cx="734.5" cy="458" rx="10.4" ry="9.2" fill="none" stroke="#00ffff" stroke-width="2.2"/>
<path d="M805,350 L805.6,370" fill="none" stroke="#00f000" stroke-width="2.4" stroke-linecap="round" stroke-linejoin="round" />
<ellipse cx="807" cy="393.75" rx="10.7" ry="8" fill="none" stroke="#00f000" stroke-width="2.4"/>
<ellipse cx="806.5" cy="425.75" rx="10.2" ry="6.4" fill="none" stroke="#00f000" stroke-width="2.4"/>
<path d="M805,448 L807.5,467" fill="none" stroke="#00f000" stroke-width="2.4" stroke-linecap="round" stroke-linejoin="round" />
<path d="M860.8,358.8 L830.8,362 M842,355 L830.8,362 L843,370" fill="none" stroke="#00f000" stroke-width="2.4" stroke-linecap="round" stroke-linejoin="round" />
<path d="M862.5,455.5 L833.3,456.3 M847,451.3 L833.3,456.3 L844.5,465.5" fill="none" stroke="#00f000" stroke-width="2.4" stroke-linecap="round" stroke-linejoin="round" />
</svg></body></html>
